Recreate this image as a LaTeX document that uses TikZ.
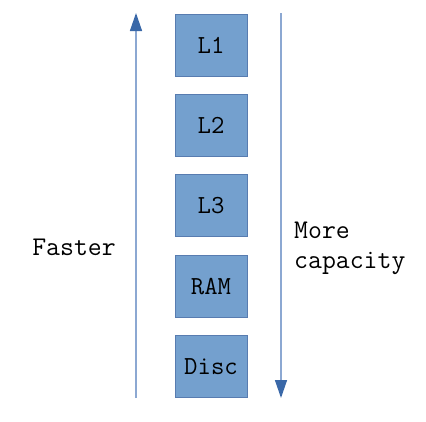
\documentclass[tikz,border=0pt]{standalone}
\usetikzlibrary{arrows.meta,positioning}

\definecolor{cachefill}{RGB}{116,160,206}
\definecolor{cacheedge}{RGB}{88,124,176}
\definecolor{axisline}{RGB}{140,168,210}
\definecolor{axishead}{RGB}{58,104,168}

\tikzset{
  level/.style={draw=cacheedge,fill=cachefill,line width=0.9pt,minimum width=72pt,minimum height=62pt,inner sep=0pt,font=\ttfamily\fontsize{26}{26}\selectfont},
  axis/.style={draw=axisline,line width=1.4pt,-{Triangle[length=18pt,width=12pt,color=axishead]}},
  caption/.style={font=\ttfamily\fontsize{27}{30}\selectfont,align=left,inner sep=0pt}
}

\begin{document}
\begin{tikzpicture}[x=1pt,y=-1pt]
\useasboundingbox (0,0) rectangle (426,421);
\node [level] (l1) at (211,45) {L1};
\node [level,below=17.5pt of l1] (l2) {L2};
\node [level,below=17.5pt of l2] (l3) {L3};
\node [level,below=17.5pt of l3] (ram) {RAM};
\node [level,below=17.5pt of ram] (disc) {Disc};
%
\coordinate (fastlow) at (136,398);
\coordinate (fasttop) at (136,13);
\coordinate (captop) at (281,13);
\coordinate (caplow) at (281,398);
\draw [axis] (fastlow) -- (fasttop);
\draw [axis] (captop) -- (caplow);
\node [caption] (faster) at (74,247) {Faster};
\node [caption,anchor=west] (capacity) at (294,248) {More\\capacity};
\end{tikzpicture}
\end{document}
